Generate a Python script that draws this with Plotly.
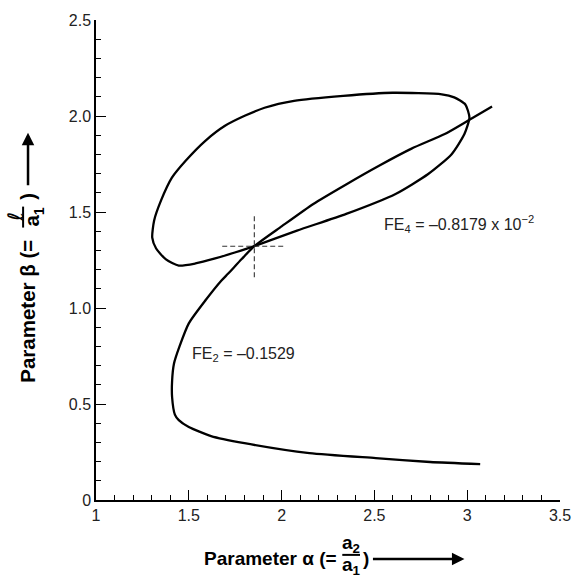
import plotly.graph_objects as go

# ---- data ----
fe2_alpha = [3.07, 2.80, 2.507, 2.15, 1.80, 1.62, 1.50, 1.446, 1.425, 1.41, 1.41, 1.42, 1.45, 1.50,
             1.59, 1.676, 1.711, 1.785, 1.853, 2.00, 2.171, 2.35, 2.525, 2.70, 2.879, 3.003, 3.134]
fe2_beta = [0.187, 0.198, 0.218, 0.244, 0.296, 0.333, 0.38, 0.416, 0.445, 0.535, 0.62, 0.71, 0.80, 0.92,
            1.04, 1.143, 1.178, 1.255, 1.322, 1.425, 1.542, 1.645, 1.741, 1.83, 1.906, 1.975, 2.05]

fe4_alpha = [1.853, 2.083, 2.348, 2.614, 2.79, 2.915, 2.985, 3.012, 2.99, 2.93, 2.863, 2.598,
             2.332, 2.067, 1.908, 1.801, 1.695, 1.589, 1.483, 1.409, 1.350, 1.313, 1.303, 1.324,
             1.377, 1.446, 1.536, 1.642, 1.748, 1.853]
fe4_beta = [1.322, 1.403, 1.49, 1.594, 1.698, 1.80, 1.906, 1.992, 2.06, 2.097, 2.113, 2.121,
            2.105, 2.079, 2.043, 2.001, 1.949, 1.871, 1.767, 1.679, 1.559, 1.455, 1.367, 1.310,
            1.253, 1.221, 1.232, 1.258, 1.289, 1.322]

solution_alpha = 1.853
solution_beta = 1.322
cross_alpha_range = [1.68, 2.02]
cross_beta_range = [1.16, 1.49]

x_tickvals = [1, 1.5, 2, 2.5, 3, 3.5]
x_ticktext = ["1", "1.5", "2", "2.5", "3", "3.5"]
y_tickvals = [0, 0.5, 1.0, 1.5, 2.0, 2.5]
y_ticktext = ["0", "0.5", "1.0", "1.5", "2.0", "2.5"]

label_fe2 = "FE<sub>2</sub> = \u20130.1529"
label_fe4 = "FE<sub>4</sub> = \u20130.8179 x 10<sup>\u22122</sup>"

FONT = "Liberation Sans, Arial, Helvetica, sans-serif"

fig = go.Figure()
line_style = dict(color="black", width=2.3, shape="spline", smoothing=0.6)
fig.add_trace(go.Scatter(x=fe2_alpha, y=fe2_beta, mode="lines", line=line_style, hoverinfo="skip"))
fig.add_trace(go.Scatter(x=fe4_alpha, y=fe4_beta, mode="lines", line=line_style, hoverinfo="skip"))

dash_style = dict(color="#333333", width=1.1, dash="5px,3px")
fig.add_trace(go.Scatter(x=cross_alpha_range, y=[solution_beta, solution_beta], mode="lines",
                         line=dash_style, hoverinfo="skip"))
fig.add_trace(go.Scatter(x=[solution_alpha, solution_alpha], y=cross_beta_range, mode="lines",
                         line=dash_style, hoverinfo="skip"))

fig.add_annotation(x=2.539, y=1.44, xref="x", yref="y", text=label_fe4, showarrow=False,
                   xanchor="left", yanchor="middle", font=dict(family=FONT, size=16, color="#222"))
fig.add_annotation(x=1.505, y=0.76, xref="x", yref="y", text=label_fe2, showarrow=False,
                   xanchor="left", yanchor="middle", font=dict(family=FONT, size=16, color="#222"))

W, H = 583, 577
ml, mr, mt, mb = 96, 16, 19, 77
PW, PH = W - ml - mr, H - mt - mb


def px(xp):
    return (xp - ml) / PW


def py(yp):
    return (H - mb - yp) / PH


tfont = dict(family=FONT, size=19, color="black")
yfont = dict(family=FONT, size=20.5, color="black")
# x-axis title pieces
fig.add_annotation(x=px(204), y=py(559), xref="paper", yref="paper", text="<b>Parameter \u03b1 (=</b>",
                   showarrow=False, xanchor="left", yanchor="middle", font=tfont)
fig.add_annotation(x=px(355), y=py(544), xref="paper", yref="paper", text="<b>a<sub>2</sub></b>",
                   showarrow=False, xanchor="center", yanchor="middle", font=tfont)
fig.add_annotation(x=px(355), y=py(566), xref="paper", yref="paper", text="<b>a<sub>1</sub></b>",
                   showarrow=False, xanchor="center", yanchor="middle", font=tfont)
fig.add_shape(type="line", xref="paper", yref="paper", x0=px(346), x1=px(364), y0=py(555), y1=py(555),
              line=dict(color="black", width=2))
fig.add_annotation(x=px(365), y=py(559), xref="paper", yref="paper", text="<b>)</b>",
                   showarrow=False, xanchor="left", yanchor="middle", font=tfont)
fig.add_annotation(x=px(470), y=py(559), ax=-93, ay=0, xref="paper", yref="paper",
                   axref="pixel", ayref="pixel", text="", showarrow=True, arrowhead=2, arrowsize=1,
                   arrowwidth=2.5, arrowcolor="black")

# y-axis title pieces
fig.add_annotation(x=px(27), y=py(385), xref="paper", yref="paper", text="<b>Parameter \u03b2 (=</b>",
                   showarrow=False, xanchor="center", yanchor="bottom", textangle=-90, font=yfont)
fig.add_annotation(x=px(14), y=py(216), xref="paper", yref="paper", text="\u2113",
                   showarrow=False, xanchor="center", yanchor="middle", textangle=-90,
                   font=dict(family="DejaVu Sans", size=21, color="black"))
fig.add_annotation(x=px(32), y=py(216), xref="paper", yref="paper", text="<b>a<sub>1</sub></b>",
                   showarrow=False, xanchor="center", yanchor="middle", textangle=-90, font=yfont)
fig.add_shape(type="line", xref="paper", yref="paper", x0=px(22), x1=px(22), y0=py(206), y1=py(227),
              line=dict(color="black", width=2))
fig.add_annotation(x=px(27), y=py(196), xref="paper", yref="paper", text="<b>)</b>",
                   showarrow=False, xanchor="center", yanchor="middle", textangle=-90, font=yfont)
fig.add_annotation(x=px(27), y=py(132), ax=0, ay=54, xref="paper", yref="paper",
                   axref="pixel", ayref="pixel", text="", showarrow=True, arrowhead=2, arrowsize=1,
                   arrowwidth=2.5, arrowcolor="black")

axis_common = dict(showgrid=False, zeroline=False, showline=True, linecolor="black", linewidth=1.5,
                   ticks="inside", ticklen=10, tickwidth=1.3, tickcolor="black",
                   tickfont=dict(family=FONT, size=16, color="#222"),
                   minor=dict(ticks="inside", ticklen=5, tickwidth=1.1, tickcolor="black", dtick=0.1,
                              showgrid=False))

fig.update_xaxes(range=[1, 3.5], tickvals=x_tickvals, ticktext=x_ticktext, **axis_common)
fig.update_yaxes(range=[0, 2.5], tickvals=y_tickvals, ticktext=y_ticktext, **axis_common)

fig.update_layout(width=W, height=H, margin=dict(l=ml, r=mr, t=mt, b=mb), showlegend=False,
                  plot_bgcolor="white", paper_bgcolor="white")

fig.write_html("out.html")
